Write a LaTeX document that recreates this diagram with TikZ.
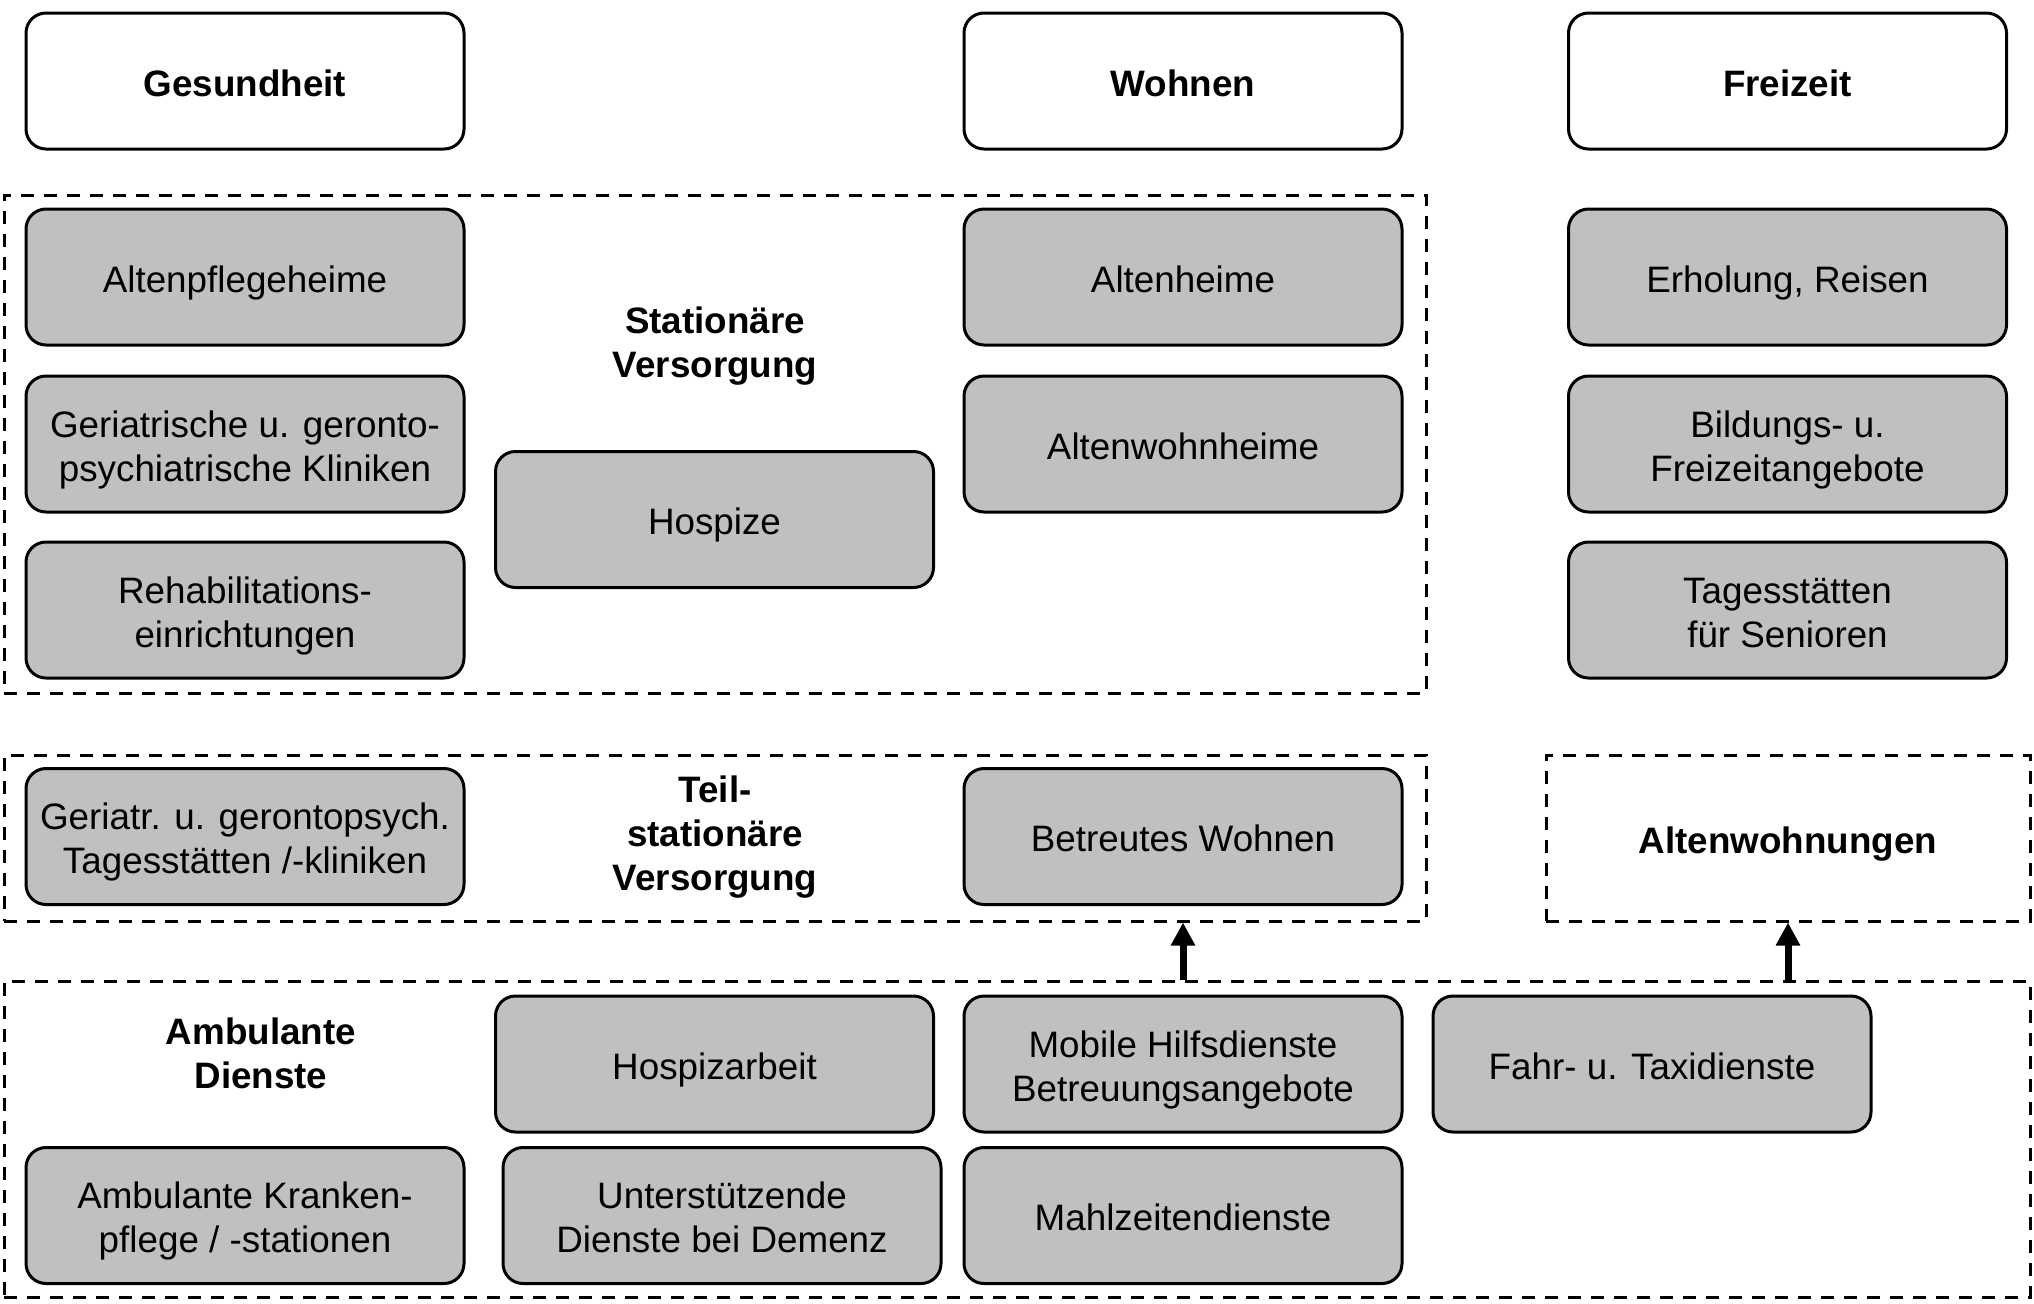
\documentclass[tikz,border=0pt]{standalone}
\usepackage{fontspec}
\setmainfont{Liberation Sans}
\usetikzlibrary{arrows.meta}
\definecolor{boxgray}{HTML}{C0C0C0}
\newcommand\toprl{\rule{0pt}{19.2pt}}
\newcommand\botrl{\rule[-4pt]{0pt}{4pt}}
\tikzset{
  one/.style={execute at begin node={\rule{0pt}{19.2pt}}, execute at end node={\rule[-4pt]{0pt}{4pt}}},
  base/.style={rectangle, rounded corners=10pt, line width=1.5pt, draw=black,
    minimum width=219pt, minimum height=68pt, inner sep=0pt, align=center,
    font=\fontsize{18.4}{22}\selectfont},
  graybox/.style={base, fill=boxgray},
  headbox/.style={base, fill=white, one, font=\fontsize{18.4}{22}\selectfont\bfseries},
  dashbox/.style={rectangle, draw=black, line width=1.5pt, dash pattern=on 6.5pt off 5pt,
    inner sep=0pt, align=center, font=\fontsize{18.4}{22}\selectfont\bfseries},
  lbl/.style={align=center, inner sep=0pt, font=\fontsize{18.4}{22}\selectfont\bfseries},
  uparrow/.style={line width=3.5pt, -{Triangle[width=11.5pt,length=11.5pt]}}
}
\begin{document}
\begin{tikzpicture}[x=0.5pt, y=-0.5pt]
\useasboundingbox (0,0) rectangle (2034,1303);
% dashed frames
\node[dashbox, minimum width=711pt, minimum height=249pt] (stat) at (715,444) {};
\node[dashbox, minimum width=711pt, minimum height=83pt] (teil) at (715,838) {};
\node[dashbox, one, minimum width=242pt, minimum height=83pt] (aw) at (1788,838) {Altenwohnungen};
\node[dashbox, minimum width=1013pt, minimum height=158pt] (amb) at (1017,1139) {};
% headers
\node[headbox] (ges) at (245,81) {Gesundheit};
\node[headbox] (woh) at (1183,81) {Wohnen};
\node[headbox] (frei) at (1787.5,81) {Freizeit};
% stationaer
\node[graybox, one] (apf) at (245,277) {Altenpflegeheime};
\node[graybox] (ger) at (245,444) {\toprl Geriatrische u. geronto-\\psychiatrische Kliniken\botrl};
\node[graybox] (reh) at (245,610) {\toprl Rehabilitations-\\einrichtungen\botrl};
\node[graybox, one] (hos) at (714.5,519.5) {Hospize};
\node[graybox, one] (ahe) at (1183,277) {Altenheime};
\node[graybox, one] (awh) at (1183,444) {Altenwohnheime};
\node[lbl] (statl) at (715,340) {\toprl Station\"are\\Versorgung\botrl};
% freizeit
\node[graybox, one] (erh) at (1787.5,277) {Erholung, Reisen};
\node[graybox] (bil) at (1787.5,444) {\toprl Bildungs- u.\\Freizeitangebote\botrl};
\node[graybox] (tag) at (1787.5,610) {\toprl Tagesst\"atten\\f\"ur Senioren\botrl};
% teilstationaer
\node[graybox] (gts) at (245,836.5) {\toprl Geriatr. u. gerontopsych.\\Tagesst\"atten /-kliniken\botrl};
\node[graybox, one] (bw) at (1183,836.5) {Betreutes Wohnen};
\node[lbl] (teill) at (715,831) {\toprl Teil-\\station\"are\\Versorgung\botrl};
% ambulant
\node[lbl] (ambl) at (261,1051) {\toprl Ambulante\\Dienste\botrl};
\node[graybox, one] (hpa) at (714.5,1064) {Hospizarbeit};
\node[graybox] (mob) at (1183,1064) {\toprl Mobile Hilfsdienste\\Betreuungsangebote\botrl};
\node[graybox, one] (fahr) at (1652,1064) {Fahr- u. Taxidienste};
\node[graybox] (akp) at (245,1215.5) {\toprl Ambulante Kranken-\\pflege / -stationen\botrl};
\node[graybox] (dem) at (722,1215.5) {\toprl Unterst\"utzende\\Dienste bei Demenz\botrl};
\node[graybox, one] (mahl) at (1183,1215.5) {Mahlzeitendienste};
% arrows
\draw[uparrow] (amb.north -| bw.south) -- (teil.south -| bw.south);
\draw[uparrow] (amb.north -| aw.south) -- (aw.south);
\end{tikzpicture}
\end{document}
